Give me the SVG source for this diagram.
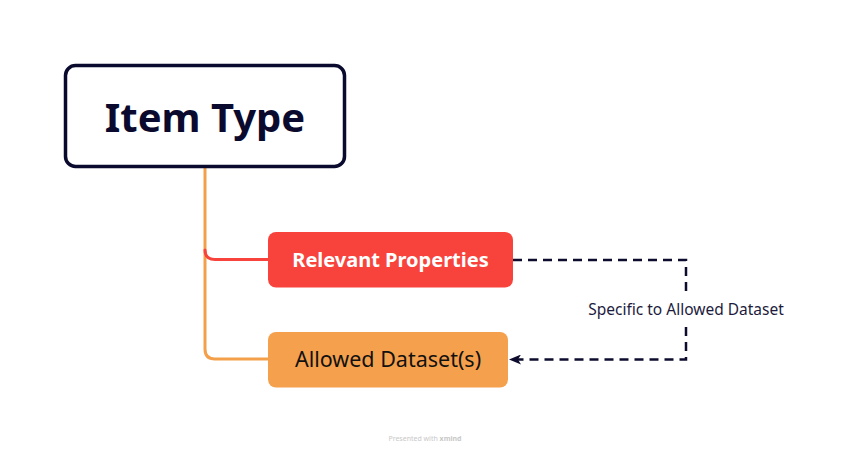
<svg xmlns="http://www.w3.org/2000/svg" width="852" height="451" viewBox="0 0 852 451">
<defs>
<style>
.t{font-family:"Noto Sans","Liberation Sans",sans-serif;text-anchor:middle}
.br{fill:none;stroke-width:3;stroke-linecap:round}
.dash{fill:none;stroke:#0e0c2e;stroke-width:2.5;stroke-dasharray:9 6}
</style>
<marker id="arr" viewBox="0 0 12 10" refX="11" refY="5" markerWidth="12" markerHeight="10" markerUnits="userSpaceOnUse" orient="auto">
<path d="M0,0 L12,5 L0,10 L3,5 Z" fill="#0e0c2e"/>
</marker>
</defs>
<rect width="852" height="451" fill="#ffffff"/>
<g id="connectors">
<path class="br" stroke="#f4a04b" d="M205,168 V349 Q205,359 215,359 H268"/>
<path class="br" stroke="#f8433c" d="M205,250 Q205,259.5 215,259.5 H268"/>
<path class="dash" d="M513,260 H686 V293"/>
<path class="dash" d="M686,327 V359.5 H510" marker-end="url(#arr)"/>
<text class="t" x="686" y="315" font-size="15.5" fill="#1d1b3d">Specific to Allowed Dataset</text>
</g>
<g id="item-type">
<rect x="65.5" y="65.5" width="279" height="101" rx="10" fill="#ffffff" stroke="#0a0a2e" stroke-width="3.5"/>
<text class="t" x="205" y="132" font-size="40" font-weight="bold" fill="#0a0a2e">Item Type</text>
</g>
<g id="relevant-properties">
<rect x="268" y="232" width="245" height="55.5" rx="8" fill="#f8433c"/>
<text class="t" x="390.5" y="266.5" font-size="20" font-weight="bold" fill="#ffffff">Relevant Properties</text>
</g>
<g id="allowed-datasets">
<rect x="268" y="332" width="240" height="55.5" rx="8" fill="#f5a04c"/>
<text class="t" x="388" y="367" font-size="21.5" fill="#111111">Allowed Dataset(s)</text>
</g>
<text class="t" x="425" y="441" font-size="7" fill="#c8c8c8">Presented with <tspan font-weight="bold">xmind</tspan></text>
</svg>
